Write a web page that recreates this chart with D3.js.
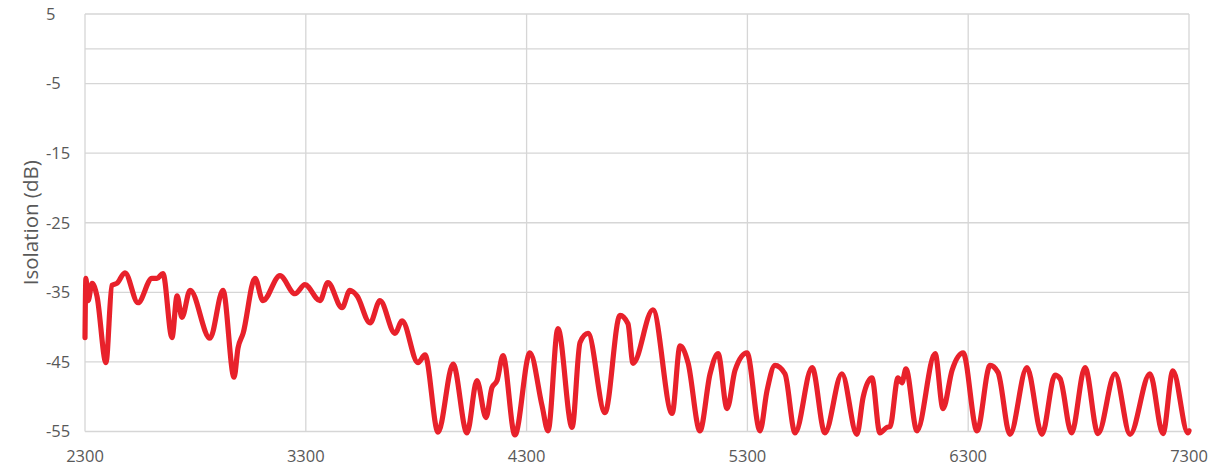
<!DOCTYPE html>
<html><head><meta charset="utf-8">
<script src="https://cdn.jsdelivr.net/npm/d3@7"></script>
<style>
html,body{margin:0;padding:0;background:#fff;}
svg{display:block;}
text{font-family:"Open Sans",sans-serif;fill:#595959;}
</style></head>
<body>
<svg id="chart" width="1217" height="468"></svg>
<script>
const xTicks = [2300, 3300, 4300, 5300, 6300, 7300];
const yTicks = [5, -5, -15, -25, -35, -45, -55];
const yAxisTitle = "Isolation (dB)";
const freq = [2300,2304,2314,2332,2354,2395,2422,2445,2481,2540,2603,2626,2653,2694,2717,2739,2776,2866,2925,2975,2993,3016,3070,3106,3183,3251,3296,3364,3400,3464,3500,3532,3591,3636,3704,3736,3808,3840,3899,3967,4030,4075,4116,4143,4166,4193,4247,4315,4370,4397,4442,4506,4542,4578,4655,4723,4759,4782,4872,4959,4995,5031,5085,5131,5167,5208,5244,5298,5357,5389,5425,5470,5516,5593,5651,5728,5796,5824,5864,5900,5932,5946,5982,6000,6018,6068,6150,6186,6227,6277,6340,6399,6435,6489,6566,6634,6693,6716,6768,6829,6888,6965,7033,7123,7182,7227,7295,7300];
const isolation = [-41.5,-33.0,-36.2,-33.7,-35.5,-45.1,-34.0,-33.7,-32.2,-36.5,-33.0,-33.0,-32.3,-41.5,-35.5,-38.6,-34.7,-41.6,-34.7,-47.2,-43.0,-40.9,-33.0,-36.2,-32.6,-35.2,-33.9,-36.2,-33.6,-37.2,-34.7,-35.5,-39.4,-36.2,-40.9,-39.1,-45.1,-44.0,-55.1,-45.3,-55.2,-47.7,-53.0,-48.7,-47.7,-44.1,-55.5,-43.7,-51.3,-54.9,-40.2,-54.4,-42.2,-40.9,-52.3,-38.3,-39.5,-45.2,-37.5,-52.4,-42.7,-45.1,-54.9,-46.7,-43.8,-51.7,-46.2,-43.7,-54.9,-49.1,-45.5,-46.7,-55.2,-45.8,-55.2,-46.7,-55.4,-50.1,-47.3,-55.2,-54.4,-54.3,-47.3,-48.0,-46.0,-54.9,-43.8,-51.7,-46.2,-43.7,-54.9,-45.5,-46.5,-55.4,-45.8,-55.4,-46.9,-47.4,-55.2,-45.8,-55.3,-46.7,-55.4,-46.7,-55.3,-46.3,-55.2,-54.9];

const svg = d3.select("#chart");
const x = d3.scaleLinear().domain([2300, 7300]).range([85, 1189]);
const y = d3.scaleLinear().domain([5, -55]).range([14, 431.5]);

// horizontal gridlines
svg.append("g").selectAll("line").data(yTicks.concat([0])).join("line")
  .attr("x1", x(2300)).attr("x2", x(7300))
  .attr("y1", d => y(d)).attr("y2", d => y(d))
  .attr("stroke", "#d6d6d6").attr("stroke-width", 1.3);
// vertical gridlines
svg.append("g").selectAll("line").data(xTicks).join("line")
  .attr("x1", d => x(d)).attr("x2", d => x(d))
  .attr("y1", y(5)).attr("y2", y(-55))
  .attr("stroke", "#d6d6d6").attr("stroke-width", 1.3);

// y tick labels
svg.append("g").selectAll("text").data(yTicks).join("text")
  .attr("x", 46).attr("y", d => y(d)).attr("dy", "0.35em")
  .attr("font-size", 16.5).text(d => d);
// x tick labels
svg.append("g").selectAll("text").data(xTicks).join("text")
  .attr("x", d => x(d)).attr("y", 462)
  .attr("text-anchor", "middle").attr("font-size", 16.5).text(d => d);
// axis title
svg.append("text")
  .attr("transform", `translate(38,${(y(5)+y(-55))/2}) rotate(-90)`)
  .attr("text-anchor", "middle").attr("font-size", 20.5).text(yAxisTitle);

const data = freq.map((f, i) => [f, isolation[i]]);
const line = d3.line().x(d => x(d[0])).y(d => y(d[1])).curve(d3.curveMonotoneX);
svg.append("path").datum(data)
  .attr("d", line).attr("fill", "none")
  .attr("stroke", "#e8212b").attr("stroke-width", 5.2)
  .attr("stroke-linejoin", "round").attr("stroke-linecap", "round");
</script>
</body></html>
